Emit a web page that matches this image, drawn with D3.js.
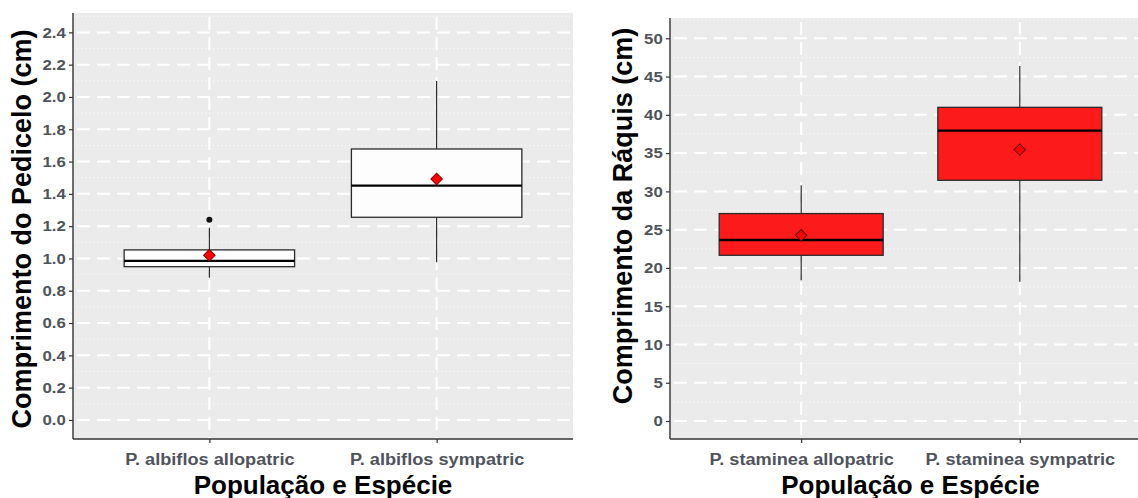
<!DOCTYPE html>
<html>
<head>
<meta charset="utf-8">
<script src="https://cdn.jsdelivr.net/npm/d3@7"></script>
<style>
  body { margin: 0; background: #fff; }
  svg { display: block; font-family: "Liberation Sans", Arial, sans-serif; }
</style>
</head>
<body>
<div id="chart"></div>
<script>
// left panel data (pedicelo, cm)
const leftCats = ["P. albiflos allopatric", "P. albiflos sympatric"];
const leftLow = [0.88, 0.976];
const leftQ1 = [0.949, 1.255];
const leftMedian = [0.985, 1.451];
const leftQ3 = [1.053, 1.678];
const leftHigh = [1.19, 2.099];
const leftMean = [1.02, 1.492];
const leftOutliers = [[1.24], []];
const leftTicks = [0, 0.2, 0.4, 0.6, 0.8, 1.0, 1.2, 1.4, 1.6, 1.8, 2.0, 2.2, 2.4];
const leftMinor = [0.1, 0.3, 0.5, 0.7, 0.9, 1.1, 1.3, 1.5, 1.7, 1.9, 2.1, 2.3, 2.5];

// right panel data (raquis, cm)
const rightCats = ["P. staminea allopatric", "P. staminea sympatric"];
const rightLow = [18.4, 18.2];
const rightQ1 = [21.65, 31.45];
const rightMedian = [23.65, 37.93];
const rightQ3 = [27.1, 40.98];
const rightHigh = [30.8, 46.38];
const rightMean = [24.26, 35.45];
const rightOutliers = [[], []];
const rightTicks = [0, 5, 10, 15, 20, 25, 30, 35, 40, 45, 50];
const rightMinor = [2.5, 7.5, 12.5, 17.5, 22.5, 27.5, 32.5, 37.5, 42.5, 47.5, 52.5];

const W = 1138, H = 498;
const svg = d3.select('#chart').append('svg').attr('width', W).attr('height', H);

function panel(opt) {
  const g = svg.append('g');
  const x = d3.scalePoint().domain(opt.cats).range([opt.x0, opt.x1]).padding(0.6);
  const y = d3.scaleLinear().domain(opt.yDomain).range([opt.y1, opt.y0]);
  const step = x.step();

  // background
  g.append('rect').attr('x', opt.x0).attr('y', opt.y0)
    .attr('width', opt.x1 - opt.x0).attr('height', opt.y1 - opt.y0)
    .attr('fill', '#ebebeb');

  // minor grid (dotted)
  g.selectAll('.minor').data(opt.minor.filter(v => y(v) > opt.y0)).join('line')
    .attr('x1', opt.x0).attr('x2', opt.x1)
    .attr('y1', d => y(d)).attr('y2', d => y(d))
    .attr('stroke', '#fff').attr('stroke-width', 1).attr('stroke-dasharray', '1,3');

  // major grid (dashed)
  g.selectAll('.major').data(opt.ticks).join('line')
    .attr('x1', opt.x0).attr('x2', opt.x1)
    .attr('y1', d => y(d)).attr('y2', d => y(d))
    .attr('stroke', '#fff').attr('stroke-width', 2).attr('stroke-dasharray', '13,7')
    .attr('stroke-dashoffset', -4);
  g.selectAll('.vgrid').data(opt.cats).join('line')
    .attr('x1', d => x(d)).attr('x2', d => x(d))
    .attr('y1', opt.y0).attr('y2', opt.y1)
    .attr('stroke', '#fff').attr('stroke-width', 2).attr('stroke-dasharray', '13,7')
    .attr('stroke-dashoffset', -4);

  const idx = d3.range(opt.cats.length);
  const bw = step * 0.75;

  // whiskers
  g.selectAll('.wu').data(idx).join('line')
    .attr('x1', i => x(opt.cats[i])).attr('x2', i => x(opt.cats[i]))
    .attr('y1', i => y(opt.q3[i])).attr('y2', i => y(opt.high[i]))
    .attr('stroke', '#1a1a1a').attr('stroke-width', 1.1);
  g.selectAll('.wl').data(idx).join('line')
    .attr('x1', i => x(opt.cats[i])).attr('x2', i => x(opt.cats[i]))
    .attr('y1', i => y(opt.q1[i])).attr('y2', i => y(opt.low[i]))
    .attr('stroke', '#1a1a1a').attr('stroke-width', 1.1);

  // boxes
  g.selectAll('.box').data(idx).join('rect')
    .attr('x', i => x(opt.cats[i]) - bw / 2).attr('width', bw)
    .attr('y', i => y(opt.q3[i])).attr('height', i => y(opt.q1[i]) - y(opt.q3[i]))
    .attr('fill', opt.fill).attr('stroke', '#2b2b2b').attr('stroke-width', 1.3);
  g.selectAll('.med').data(idx).join('line')
    .attr('x1', i => x(opt.cats[i]) - bw / 2).attr('x2', i => x(opt.cats[i]) + bw / 2)
    .attr('y1', i => y(opt.median[i])).attr('y2', i => y(opt.median[i]))
    .attr('stroke', '#000').attr('stroke-width', 2.4);

  // outliers
  idx.forEach(i => {
    g.selectAll(null).data(opt.outliers[i]).join('circle')
      .attr('cx', x(opt.cats[i])).attr('cy', d => y(d)).attr('r', 3)
      .attr('fill', '#111');
  });

  // means (diamond)
  const diamond = d3.symbol(d3.symbolSquare, 66);
  g.selectAll('.mean').data(idx).join('path')
    .attr('d', diamond)
    .attr('transform', i => `translate(${x(opt.cats[i])},${y(opt.mean[i])}) rotate(45)`)
    .attr('fill', '#ff0000').attr('stroke', opt.meanStroke).attr('stroke-width', 1);

  // axes lines
  g.append('line').attr('x1', opt.x0).attr('x2', opt.x0).attr('y1', opt.y0).attr('y2', opt.y1)
    .attr('stroke', '#333').attr('stroke-width', 1.4);
  g.append('line').attr('x1', opt.x0).attr('x2', opt.x1).attr('y1', opt.y1).attr('y2', opt.y1)
    .attr('stroke', '#333').attr('stroke-width', 1.4);

  const yAxis = d3.axisLeft(y).tickValues(opt.ticks).tickSize(4).tickPadding(3)
    .tickFormat(opt.fmt);
  const ya = g.append('g').attr('transform', `translate(${opt.x0},0)`).call(yAxis);
  ya.select('.domain').remove();
  ya.selectAll('line').attr('stroke', '#333').attr('stroke-width', 1.2);
  ya.selectAll('text').attr('fill', '#4f535c').attr('font-size', 15)
    .attr('font-weight', 'bold').attr('font-family', '"Liberation Sans", Arial, sans-serif')
    .attr('x', -6.5).attr('transform', 'scale(1.12,1)');

  const xAxis = d3.axisBottom(x).tickSize(4).tickPadding(6);
  const xa = g.append('g').attr('transform', `translate(0,${opt.y1})`).call(xAxis);
  xa.select('.domain').remove();
  xa.selectAll('line').attr('stroke', '#333').attr('stroke-width', 1.2);
  xa.selectAll('text').attr('fill', '#4f535c').attr('font-size', 17)
    .attr('font-weight', 'bold').attr('font-family', '"Liberation Sans", Arial, sans-serif')
    .attr('y', 26).attr('dy', 0).attr('transform', 'scale(1.07,1)');

  // titles
  g.append('text')
    .attr('transform', `translate(${opt.yTitleX},${opt.yTitleMid}) rotate(-90)`)
    .attr('text-anchor', 'middle').attr('dy', '0.35em')
    .attr('font-size', 27).attr('font-weight', 'bold').attr('fill', '#000')
    .text(opt.yTitle);
  g.append('text')
    .attr('x', (opt.x0 + opt.x1) / 2).attr('y', 494)
    .attr('text-anchor', 'middle')
    .attr('font-size', 26).attr('font-weight', 'bold').attr('fill', '#000')
    .text('População e Espécie');
}

panel({
  cats: leftCats, low: leftLow, q1: leftQ1, median: leftMedian, q3: leftQ3,
  high: leftHigh, mean: leftMean, outliers: leftOutliers,
  ticks: leftTicks, minor: leftMinor, yDomain: [-0.118, 2.52],
  fmt: d3.format('.1f'),
  x0: 73, x1: 573, y0: 13, y1: 439,
  fill: '#fdfdfd', meanStroke: '#8b0000',
  yTitle: 'Comprimento do Pedicelo (cm)', yTitleX: 22, yTitleMid: 229
});

panel({
  cats: rightCats, low: rightLow, q1: rightQ1, median: rightMedian, q3: rightQ3,
  high: rightHigh, mean: rightMean, outliers: rightOutliers,
  ticks: rightTicks, minor: rightMinor, yDomain: [-2.35, 52.65],
  fmt: d3.format('d'),
  x0: 670, x1: 1151, y0: 18, y1: 439,
  fill: '#fc1a1a', meanStroke: '#5a0000',
  yTitle: 'Comprimento da Ráquis (cm)', yTitleX: 623, yTitleMid: 216
});
</script>
</body>
</html>
